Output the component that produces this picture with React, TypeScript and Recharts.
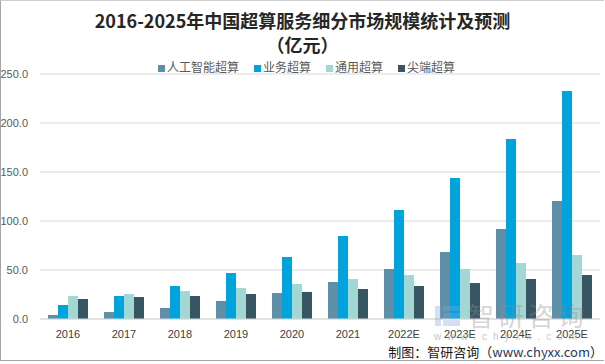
import React from "react";
import { Bar, BarChart, CartesianGrid, XAxis, YAxis } from "recharts";

const years = ["2016", "2017", "2018", "2019", "2020", "2021", "2022E", "2023E", "2024E", "2025E"];
const aiSuper = [4.1, 7.1, 11.2, 18.4, 26.5, 37.8, 51.0, 68.4, 91.8, 120.4];
const bizSuper = [14.3, 23.5, 33.7, 46.9, 63.3, 84.7, 111.2, 143.9, 183.7, 232.7];
const generalSuper = [23.5, 25.5, 28.6, 31.6, 35.7, 40.8, 44.9, 51.0, 57.1, 65.3];
const topSuper = [20.4, 22.4, 23.5, 25.5, 27.6, 30.6, 33.7, 36.7, 40.8, 44.9];
const yTicks = [0, 50, 100, 150, 200, 250];

const series = [
  { key: "ai", name: "人工智能超算", color: "#5e8fa8" },
  { key: "biz", name: "业务超算", color: "#00a3dc" },
  { key: "general", name: "通用超算", color: "#a3d7d4" },
  { key: "top", name: "尖端超算", color: "#385563" },
];

const data = years.map((year, i) => ({
  year,
  ai: aiSuper[i],
  biz: bizSuper[i],
  general: generalSuper[i],
  top: topSuper[i],
}));

const font = "'Liberation Sans', 'Noto Sans CJK SC', sans-serif";

function LegendRow() {
  return (
    <div
      style={{
        position: "absolute",
        top: 59,
        left: 4,
        width: 605,
        display: "flex",
        justifyContent: "center",
        gap: 15,
        fontSize: 12,
        lineHeight: "18px",
        color: "#595959",
        fontFamily: font,
      }}
    >
      {series.map((s) => (
        <span key={s.key} style={{ display: "flex", alignItems: "center" }}>
          <span style={{ width: 7, height: 7, background: s.color, marginRight: 2, display: "inline-block" }} />
          {s.name}
        </span>
      ))}
    </div>
  );
}

export default function App() {
  return (
    <div
      style={{
        position: "absolute",
        left: 0,
        top: 0,
        width: 605,
        height: 364,
        background: "#fff",
        fontFamily: font,
      }}
    >
      <div
        style={{
          position: "absolute",
          left: 0,
          top: 0,
          width: 604,
          height: 361,
          borderLeft: "1px solid #a6a6a6",
          borderTop: "1px solid #d0d0d0",
          borderBottom: "1px solid #a6a6a6",
          boxSizing: "border-box",
        }}
      />
      <div
        style={{
          position: "absolute",
          top: 8,
          width: 605,
          textAlign: "center",
          fontFamily: "'Noto Sans CJK SC', sans-serif",
          fontWeight: "bold",
          fontSize: 18,
          lineHeight: "24px",
          color: "#262626",
        }}
      >
        2016-2025年中国超算服务细分市场规模统计及预测
        <br />
        （亿元）
      </div>
      <BarChart
        width={605}
        height={364}
        data={data}
        margin={{ top: 74, right: 5, left: 0, bottom: 15 }}
        barCategoryGap={8}
        barGap={0}
        style={{ position: "absolute", left: 0, top: 0 }}
      >
        <CartesianGrid vertical={false} stroke="#d9d9d9" />
        <XAxis
          dataKey="year"
          height={30}
          axisLine={{ stroke: "#d9d9d9" }}
          tickLine={false}
          tickSize={0}
          tickMargin={11}
          tick={{ fontSize: 11, fill: "#404040", fontFamily: font }}
        />
        <YAxis
          domain={[0, 250]}
          ticks={yTicks}
          width={40}
          axisLine={false}
          tickLine={false}
          tickSize={0}
          tickMargin={12}
          tickFormatter={(v) => Number(v).toFixed(1)}
          tick={{ fontSize: 11, fill: "#595959", fontFamily: font }}
        />
        {series.map((s) => (
          <Bar key={s.key} dataKey={s.key} name={s.name} fill={s.color} isAnimationActive={false} />
        ))}
      </BarChart>
      <LegendRow />
      <svg width={605} height={364} style={{ position: "absolute", left: 0, top: 0, pointerEvents: "none" }}>
        <g opacity={0.35}>
          <rect x={435} y={306} width={6} height={20} fill="#7fa7d9" />
          <rect x={443} y={306} width={17} height={5} fill="#7fa7d9" />
          <rect x={443} y={313} width={17} height={5} fill="#7fa7d9" />
          <rect x={443} y={320} width={17} height={6} fill="#7fa7d9" />
          <text x={468} y={326} fontSize={26} fill="#8c8c8c" fontFamily="'Noto Sans CJK SC', sans-serif" letterSpacing={4}>
            智研咨询
          </text>
        </g>
        <text x={434} y={340} fontSize={10} fill="#b0b0b0" opacity={0.7} letterSpacing={6} fontFamily={font}>
          www.chyxx.com
        </text>
        <text x={603} y={357} textAnchor="end" fontSize={13} fontFamily="'Noto Sans CJK SC', sans-serif" fill="#1a1a1a">
          制图：智研咨询（<tspan fill="#1f3a66">www.chyxx.com</tspan>）
        </text>
      </svg>
    </div>
  );
}
